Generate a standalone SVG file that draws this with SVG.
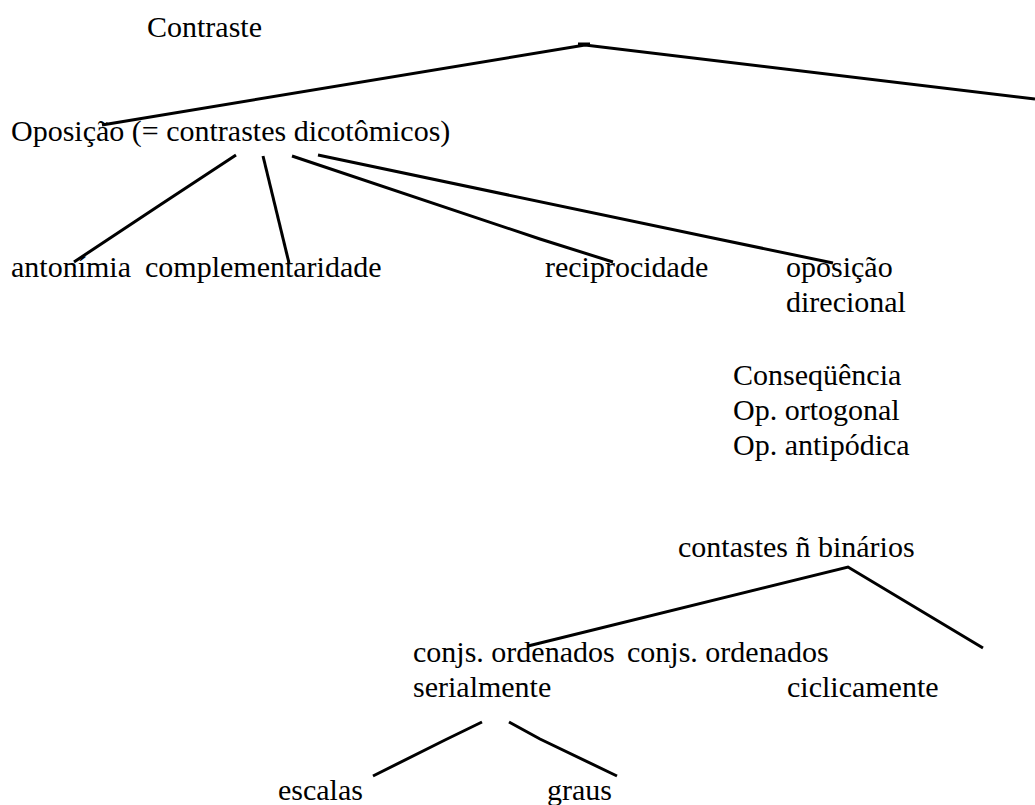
<svg xmlns="http://www.w3.org/2000/svg" width="1035" height="805" viewBox="0 0 1035 805">
<style>
text { font-family: "Liberation Serif", "Times New Roman", serif; font-size: 30px; fill: #000; }
.c { fill: none; stroke: #000; stroke-width: 3; stroke-linecap: butt; stroke-linejoin: miter; }
</style>
<rect width="1035" height="805" fill="#fff"/>
<g id="connectors">
<polyline class="c" points="102,125 585,45 1035,99"/>
<line class="c" x1="578" y1="44" x2="590" y2="44"/>
<polyline class="c" points="236,155 160,205 74,262"/>
<line class="c" x1="263" y1="156" x2="289" y2="263"/>
<polyline class="c" points="292,156 540,239 613,262"/>
<polyline class="c" points="318,155 713,238 833,263"/>
<polyline class="c" points="528,646 848,567 983,648"/>
<polyline class="c" points="482,722 445,740 373,776"/>
<polyline class="c" points="509,722 540,739 617,776"/>
</g>
<g id="contraste"><text x="147" y="37">Contraste</text></g>
<g id="oposicao"><text x="11" y="141">Oposição (= contrastes dicotômicos)</text></g>
<g id="antonimia"><text x="11" y="277">antonímia</text></g>
<g id="complementaridade"><text x="145" y="277">complementaridade</text></g>
<g id="reciprocidade"><text x="545" y="277">reciprocidade</text></g>
<g id="oposicao-direcional"><text x="786" y="277">oposição</text><text x="786" y="312">direcional</text></g>
<g id="consequencia"><text x="733" y="385">Conseqüência</text><text x="733" y="420">Op. ortogonal</text><text x="733" y="455">Op. antipódica</text></g>
<g id="nao-binarios"><text x="678" y="557">contastes ñ binários</text></g>
<g id="serialmente"><text x="413" y="662">conjs. ordenados</text><text x="413" y="697">serialmente</text></g>
<g id="ciclicamente"><text x="627" y="662">conjs. ordenados</text><text x="787" y="697">ciclicamente</text></g>
<g id="escalas"><text x="278" y="800">escalas</text></g>
<g id="graus"><text x="547" y="800">graus</text></g>
</svg>
